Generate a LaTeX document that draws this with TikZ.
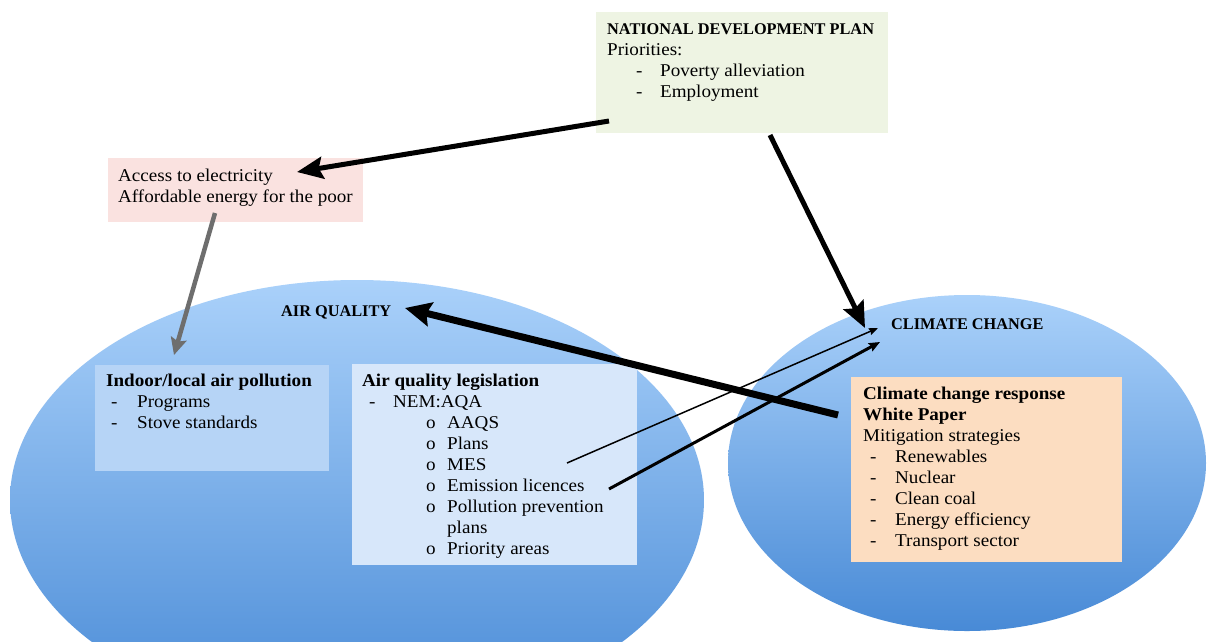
\documentclass[tikz,border=0pt]{standalone}
\usepackage{fontspec}
\setmainfont[FakeStretch=1.06]{Liberation Serif}
\newfontfamily\capsfont{Liberation Serif}
\usetikzlibrary{arrows.meta,shapes.geometric}
\definecolor{elltop}{RGB}{170,209,250}
\definecolor{ellbot}{RGB}{72,138,214}
\definecolor{ndpfill}{RGB}{238,244,227}
\definecolor{accfill}{RGB}{250,226,224}
\definecolor{indfill}{RGB}{182,212,246}
\definecolor{aqfill}{RGB}{215,231,250}
\definecolor{ccfill}{RGB}{252,221,193}
\newcommand\litem[3]{\hspace*{#1pt}\makebox[#2pt][l]{#3}}
\tikzset{
  ell/.style={ellipse, inner sep=0pt, top color=elltop, bottom color=ellbot, draw=none},
  boxnode/.style={rectangle, inner sep=0pt, anchor=north west, draw=none},
  txt/.style={anchor=base west, inner sep=0pt, font=\fontsize{18}{21}\selectfont},
  lbl/.style={anchor=base west, inner sep=0pt, font=\capsfont\bfseries\fontsize{16.3}{21}\selectfont},
  fat/.style={line width=5pt, -{Stealth[length=26pt,width=22pt,inset=4pt]}},
  fatter/.style={line width=7pt, -{Stealth[length=26pt,width=24pt,inset=4pt]}},
  grayarr/.style={line width=4.5pt, draw={rgb,255:red,110;green,110;blue,110}, -{Stealth[length=17pt,width=16pt,inset=3pt]}},
  thinarr/.style={line width=1.5pt, -{Stealth[length=9pt,width=7pt,inset=1pt]}},
  midarr/.style={line width=3pt, -{Stealth[length=11pt,width=9pt,inset=1.5pt]}}
}
\begin{document}
\begin{tikzpicture}[x=1pt,y=-1pt]
\useasboundingbox (0,0) rectangle (1208,641);
\clip (0,0) rectangle (1208,641);
\fill[white] (0,0) rectangle (1208,641);

% ellipses
\node[ell, minimum width=694pt, minimum height=440pt] (aqell) at (357,500) {};
\node[ell, minimum width=478pt, minimum height=336pt] (ccell) at (967,463) {};

% boxes
\node[boxnode, fill=ndpfill, minimum width=292pt, minimum height=121pt] (ndp) at (596,12) {};
\node[boxnode, fill=accfill, minimum width=255pt, minimum height=64pt] (access) at (108,158) {};
\node[boxnode, fill=indfill, minimum width=234pt, minimum height=106pt] (indoor) at (95,365) {};
\node[boxnode, fill=aqfill, minimum width=285pt, minimum height=201pt] (aqleg) at (352,364) {};
\node[boxnode, fill=ccfill, minimum width=271pt, minimum height=185pt] (ccbox) at (851,377) {};

% texts
\node[txt] (ndptext) at (607,34) {\parbox[t]{285pt}{%
{\capsfont\bfseries\fontsize{16.3}{21}\selectfont NATIONAL DEVELOPMENT PLAN}\\
Priorities:\\
\litem{29}{24}{-}Poverty alleviation\\
\litem{29}{24}{-}Employment}};

\node[txt] (accesstext) at (118,181) {\parbox[t]{250pt}{%
Access to electricity\\
Affordable energy for the poor}};

\node[txt] (indoortext) at (106,386) {\parbox[t]{230pt}{%
\textbf{Indoor/local air pollution}\\
\litem{5}{26}{-}Programs\\
\litem{5}{26}{-}Stove standards}};

\node[txt] (aqlegtext) at (362,386) {\parbox[t]{280pt}{%
\textbf{Air quality legislation}\\
\litem{7}{24}{-}NEM:AQA\\
\litem{64}{21}{o}AAQS\\
\litem{64}{21}{o}Plans\\
\litem{64}{21}{o}MES\\
\litem{64}{21}{o}Emission licences\\
\litem{64}{21}{o}Pollution prevention\\
\litem{85}{0}{}plans\\
\litem{64}{21}{o}Priority areas}};

\node[txt] (cctext) at (863,399) {\parbox[t]{260pt}{%
\textbf{Climate change response}\\
\textbf{White Paper}\\
Mitigation strategies\\
\litem{7}{25}{-}Renewables\\
\litem{7}{25}{-}Nuclear\\
\litem{7}{25}{-}Clean coal\\
\litem{7}{25}{-}Energy efficiency\\
\litem{7}{25}{-}Transport sector}};

% labels
\node[lbl] (aq) at (281,316) {AIR QUALITY};
\node[lbl] (cc) at (891,329) {CLIMATE CHANGE};

% arrow end points
\coordinate (a1s) at (609,121);
\coordinate (a1e) at (297,172);
\coordinate (a2s) at (770,135);
\coordinate (a2e) at (865,328);
\coordinate (a3s) at (215,213);
\coordinate (a3e) at (174,355);
\coordinate (a4s) at (838,415);
\coordinate (a4e) at (405,308);
\coordinate (a5s) at (567,463);
\coordinate (a5e) at (878,328);
\coordinate (a6s) at (609,489);
\coordinate (a6e) at (880,342);

% arrows
\draw[fat] (a1s) -- (a1e);
\draw[fat] (a2s) -- (a2e);
\draw[grayarr] (a3s) -- (a3e);
\draw[fatter] (a4s) -- (a4e);
\draw[thinarr] (a5s) -- (a5e);
\draw[midarr] (a6s) -- (a6e);
\end{tikzpicture}
\end{document}
